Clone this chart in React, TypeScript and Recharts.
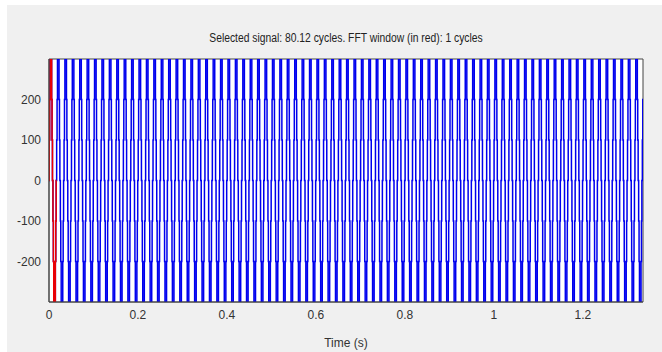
import { LineChart, Line, XAxis, YAxis, ReferenceArea } from "recharts";

// one cycle of the stepped inverter output: switching angle (deg) and level after it
const stepAngle = [0, 12, 32, 52, 128, 148, 168, 192, 212, 232, 308, 328, 348];
const stepLevel = [0, 100, 200, 300, 200, 100, 0, -100, -200, -300, -200, -100, 0];
const cycles = 80.12;
const freq = 60;
const windowCycles = 1;
const xTicks = [0, 0.2, 0.4, 0.6, 0.8, 1, 1.2];
const yTicks = [-200, -100, 0, 100, 200];

const tEnd = cycles / freq;

function buildSignal(nCycles: number) {
  const end = nCycles / freq;
  const pts: { t: number; v: number }[] = [];
  for (let k = 0; k < Math.ceil(nCycles); k++) {
    stepAngle.forEach((a, i) => {
      const t = (k + a / 360) / freq;
      if (t < end) pts.push({ t, v: stepLevel[i] });
    });
  }
  pts.push({ t: end, v: pts[pts.length - 1].v });
  return pts;
}

const signal = buildSignal(cycles);
const fftWindow = buildSignal(windowCycles);

const font = '"Liberation Sans", Arial, sans-serif';

export default function App() {
  return (
    <div
      style={{
        position: "absolute",
        left: 0,
        top: 0,
        width: 662,
        height: 352,
        background: "#ffffff",
        fontFamily: font,
        overflow: "hidden",
      }}
    >
      <div
        style={{
          position: "absolute",
          left: 7,
          top: 5,
          right: 0,
          bottom: 0,
          background: "#f0f0f0",
        }}
      />
      <div
        style={{
          position: "absolute",
          top: 31,
          left: 49,
          width: 594,
          textAlign: "center",
          fontSize: 12,
          color: "#222",
          transform: "scaleX(0.86)",
        }}
      >
        Selected signal: 80.12 cycles. FFT window (in red): 1 cycles
      </div>
      <div style={{ position: "absolute", left: 0, top: 0 }}>
        <LineChart
          width={662}
          height={352}
          margin={{ top: 59, right: 19, bottom: 20, left: 9 }}
        >
          <XAxis
            dataKey="t"
            type="number"
            domain={[0, tEnd]}
            ticks={xTicks}
            allowDataOverflow
            tickLine={false}
            axisLine={{ stroke: "#444" }}
            tick={{ fontSize: 12, fill: "#333", fontFamily: font }}
            tickFormatter={(v) => String(v)}
            height={30}
            label={{ value: "Time (s)", position: "insideBottom", offset: -15, fontSize: 12, fill: "#333", fontFamily: font }}
          />
          <YAxis
            type="number"
            domain={[-300, 300]}
            ticks={yTicks}
            allowDataOverflow
            tickLine={false}
            axisLine={{ stroke: "#444" }}
            tick={{ fontSize: 12, fill: "#333", fontFamily: font }}
            width={40}
          />
          <ReferenceArea
            x1={0}
            x2={tEnd}
            y1={-300}
            y2={300}
            fill="#ffffff"
            fillOpacity={1}
            stroke="#444"
          />
          <Line
            data={signal}
            dataKey="v"
            type="stepAfter"
            stroke="#0000ee"
            strokeWidth={1.5}
            dot={false}
            isAnimationActive={false}
          />
          <Line
            data={fftWindow}
            dataKey="v"
            type="stepAfter"
            stroke="#ee0000"
            strokeWidth={1.5}
            dot={false}
            isAnimationActive={false}
          />
        </LineChart>
      </div>
    </div>
  );
}
